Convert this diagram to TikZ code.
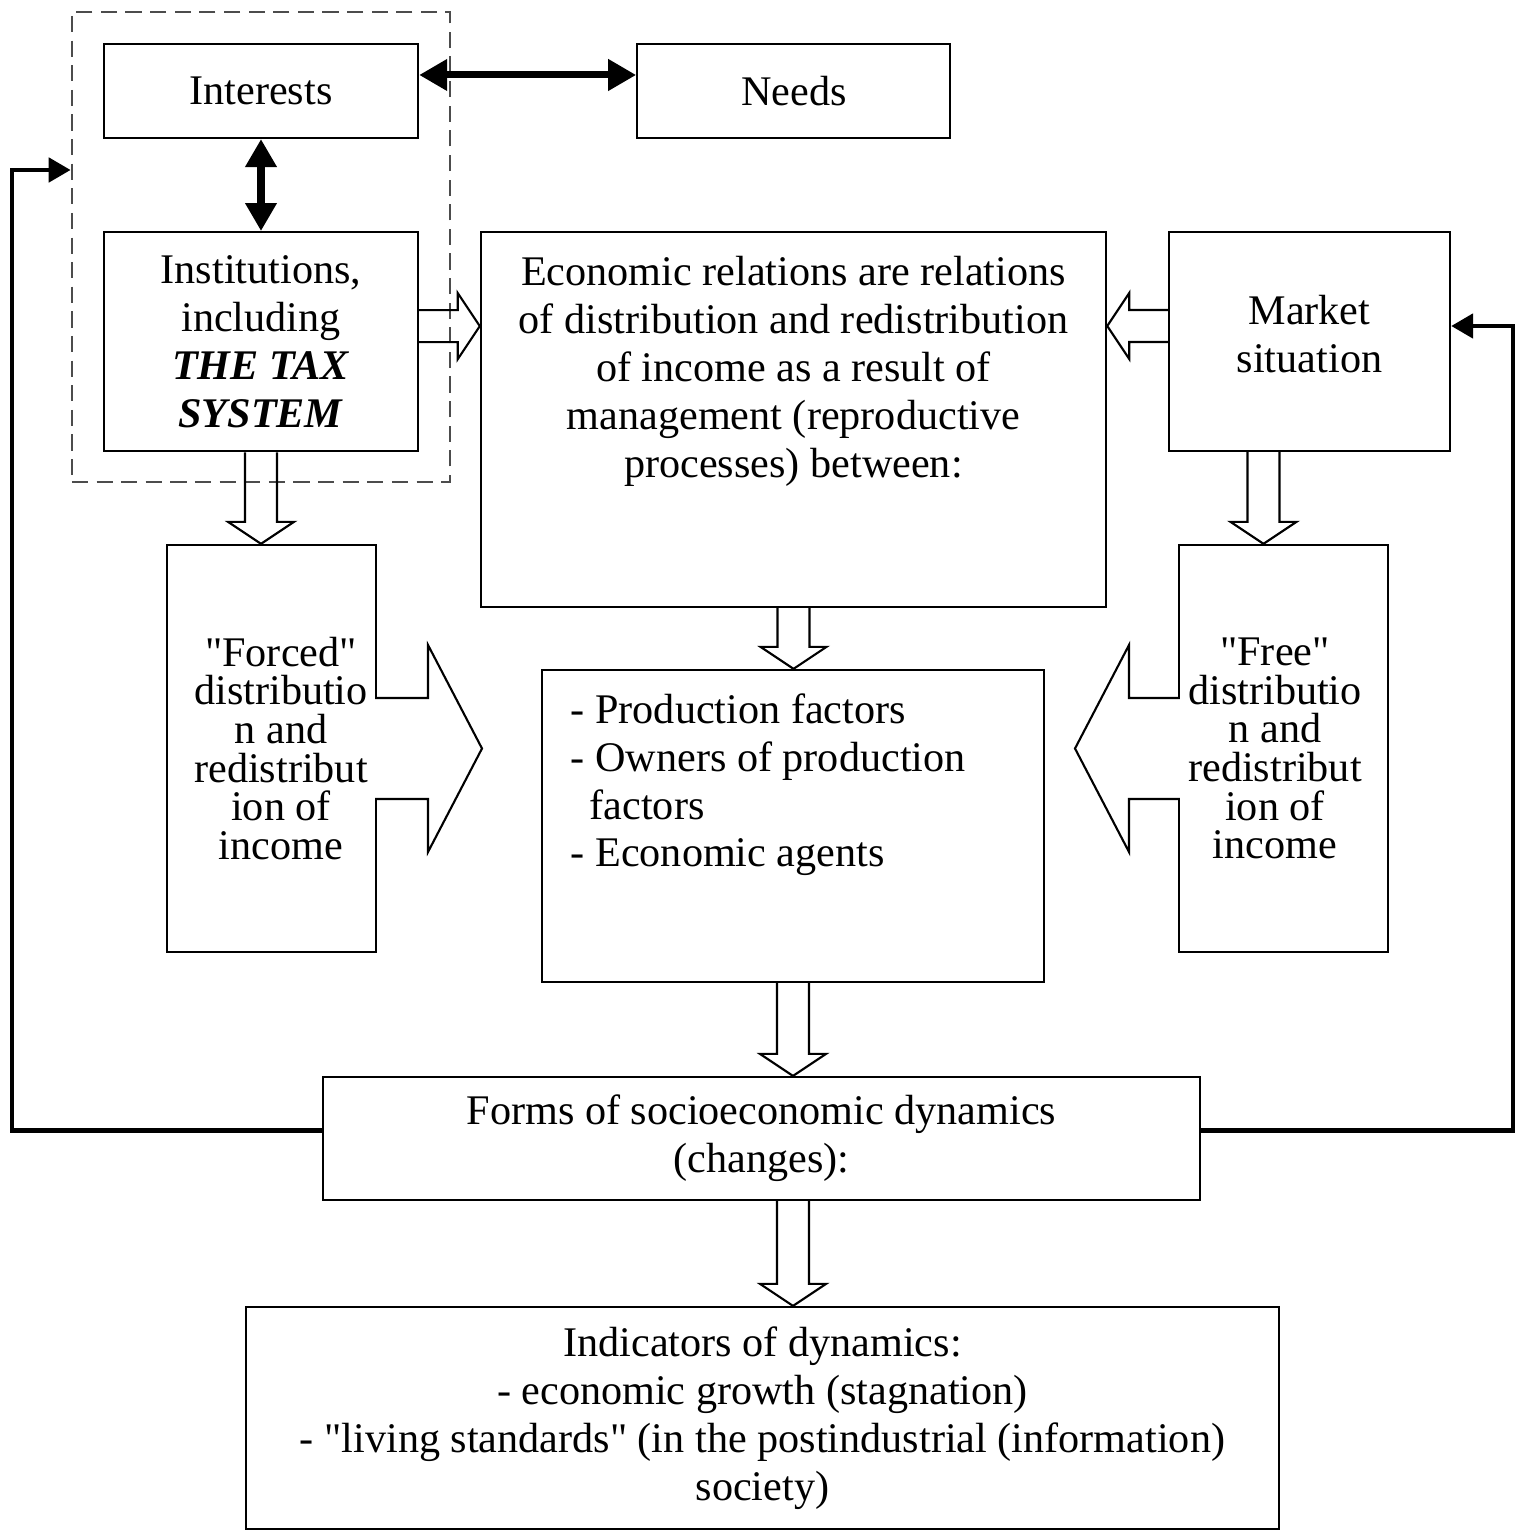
\documentclass[tikz,border=0pt]{standalone}
\usepackage{fontspec}
\setmainfont{Liberation Serif}[Ligatures=TeXOff]
\usetikzlibrary{shapes,arrows,arrows.meta,positioning,calc}
\tikzset{basic/.style={draw,line width=0.6pt,align=center,inner sep=0pt,font=\fontsize{12}{13.6}\selectfont}}
\tikzset{box/.style={basic,rectangle}}
\tikzset{txt/.style={align=center,inner sep=0pt,font=\fontsize{12}{13.6}\selectfont}}
\tikzset{groupbox/.style={rectangle,draw=black!70,dash pattern=on 4.6pt off 2.4pt,line width=0.7pt}}
\tikzset{link/.style={draw,line width=2pt,{Triangle[length=0.28cm,width=0.3cm]}-{Triangle[length=0.28cm,width=0.3cm]}}}
\tikzset{feedback/.style={line width=1.4pt,-{Triangle[length=0.22cm,width=0.24cm]}}}
\tikzset{hollow/.style n args={3}{to path={let \p1=($(\tikztotarget)!#3!(\tikztostart)$) in
    ($(\tikztostart)!#1!90:(\tikztotarget)$) -- ($(\p1)!#1!90:(\tikztotarget)$)
    -- ($(\p1)!#2!90:(\tikztotarget)$) -- (\tikztotarget)
    -- ($(\p1)!#2!-90:(\tikztotarget)$) -- ($(\p1)!#1!-90:(\tikztotarget)$)
    -- ($(\tikztostart)!#1!-90:(\tikztotarget)$)}}}
\tikzset{fat/.style={draw,line width=0.6pt,hollow={0.16cm}{0.33cm}{0.22cm}}}
\tikzset{bigfat/.style={draw,fill=white,line width=0.6pt,hollow={0.505cm}{1.035cm}{0.54cm}}}

\begin{document}
\begin{tikzpicture}[x=0.01cm,y=-0.01cm]
    \useasboundingbox (0,0) rectangle (1518,1531);

    \node[box,minimum width=3.14cm,minimum height=0.94cm] (interests) at (261,91) {Interests};
    \node[box,minimum width=3.13cm,minimum height=0.94cm,right of=interests,node distance=5.325cm] (needs) {Needs};
    \node[box,minimum width=3.14cm,minimum height=2.19cm,below of=interests,node distance=2.505cm] (inst) {Institutions,\\including\\\textbf{\textit{THE TAX}}\\\textbf{\textit{SYSTEM}}};
    \node[groupbox,minimum width=3.78cm,minimum height=4.70cm] (group) at (261,247) {};

    \node[box,minimum width=6.25cm,minimum height=3.75cm] (econ) at (793.5,419.5) {};
    \node[txt,anchor=north] (econtext) at (793.5,256) {Economic relations are relations\\of distribution and redistribution\\of income as a result of\\management (reproductive\\processes) between:};
    \node[box,minimum width=2.81cm,minimum height=2.19cm] (market) at (1309.5,341.5) {};
    \node[txt] (markettext) at (1309.5,334) {Market\\situation};

    \node[box,minimum width=2.09cm,minimum height=4.07cm] (forced) at (271.5,748.5) {};
    \node[txt,font=\fontsize{12}{11}\selectfont] (forcedtext) at (281,748.5) {"Forced"\\distributio\\n and\\redistribut\\ion of\\income};
    \node[box,minimum width=2.09cm,minimum height=4.07cm] (free) at (1283.5,748.5) {};
    \node[txt,font=\fontsize{12}{11}\selectfont] (freetext) at (1275,748.5) {"Free"\\distributio\\n and\\redistribut\\ion of\\income};
    \node[box,minimum width=5.02cm,minimum height=3.12cm] (factors) at (793,826) {};
    \node[txt,align=left,anchor=north west] (factorstext) at (570,693) {- Production factors\\- Owners of production\\\hspace{0.19cm}factors\\- Economic agents};

    \node[box,minimum width=8.77cm,minimum height=1.23cm] (forms) at (761.5,1138.5) {Forms of socioeconomic dynamics\\(changes):};
    \node[box,minimum width=10.33cm,minimum height=2.22cm] (indic) at (762.5,1418) {Indicators of dynamics:\\- economic growth (stagnation)\\- "living standards" (in the postindustrial (information)\\society)};

    \coordinate (fa) at (482,748.5);
    \coordinate (fb) at (1075,748.5);
    \coordinate (fbl) at (12,170);
    \coordinate (fbr) at (1513,326);

    % links between interests, needs and institutions
    \path[link] ([yshift=0.16cm]interests.east) -- ([yshift=0.16cm]needs.west);
    \path[link] (interests.south) -- (inst.north);

    % hollow arrows
    \path[fat] (inst.south) to (inst.south |- forced.north);
    \path[fat] ([yshift=0.155cm]inst.east) to ([yshift=0.155cm]inst.east -| econ.west);
    \path[fat] ([yshift=0.155cm]market.west) to ([yshift=0.155cm]market.west -| econ.east);
    \path[fat] ([xshift=-0.46cm]market.south) to ([xshift=-0.46cm]market.south |- free.north);
    \path[fat] (econ.south) to (econ.south |- factors.north);
    \path[fat] (factors.south) to (factors.south |- forms.north);
    \path[fat] (forms.south -| factors.south) to (indic.north -| factors.south);
    \path[bigfat] ([xshift=-0.02cm]forced.east) to (fa);
    \path[bigfat] ([xshift=0.02cm]free.west) to (fb);

    % feedback loops
    \draw[feedback] ([yshift=0.08cm]forms.west) -| (fbl) -- (group.west |- fbl);
    \draw[feedback] ([yshift=0.08cm]forms.east) -| (fbr) -- (market.east |- fbr);
\end{tikzpicture}
\end{document}
